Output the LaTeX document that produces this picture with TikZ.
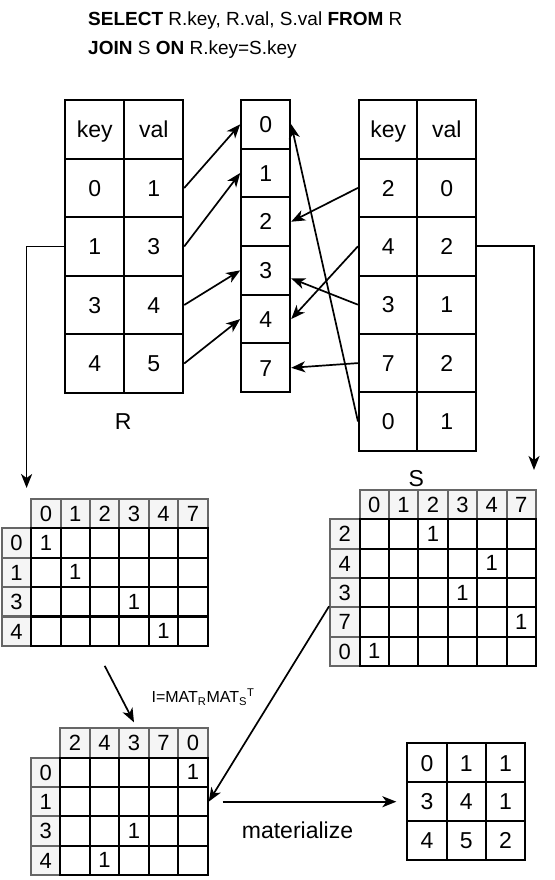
\documentclass[tikz,border=0pt]{standalone}
\usepackage{fontspec}
\setmainfont{Liberation Sans}
\usetikzlibrary{arrows.meta}

\definecolor{hdrfill}{HTML}{F5F5F5}
\definecolor{hdrline}{HTML}{666666}

\tikzset{
	txt/.style={draw=none, fill=none, inner sep=0pt, font=\fontsize{23}{27}\selectfont},
	tcell/.style={rectangle, draw, line width=2pt, inner sep=0pt, text height=16.5pt, text depth=0pt, font=\fontsize{23}{27}\selectfont},
	mcell/.style={rectangle, draw, line width=2pt, inner sep=0pt, minimum width=29.4pt, minimum height=29.3pt, text height=15.8pt, text depth=0pt, font=\fontsize{22}{26}\selectfont},
	hcell/.style={mcell, draw=hdrline, fill=hdrfill},
	link/.style={line width=1.7pt, -{Stealth[length=14pt, width=11pt, inset=4pt]}}
}

\begin{document}
\begin{tikzpicture}[x=1pt, y=-1pt]
	\useasboundingbox (0,0) rectangle (554,880);

	\node[txt, anchor=base west, font=\fontsize{19}{23}\selectfont] (sql1) at (88,26) {\textbf{SELECT} R.key, R.val, S.val \textbf{FROM} R};
	\node[txt, anchor=base west, font=\fontsize{19}{23}\selectfont] (sql2) at (88,55) {\textbf{JOIN} S \textbf{ON} R.key=S.key};

	\foreach \k/\v [count=\i from 0] in {key/val,0/1,1/3,3/4,4/5}{
		\node[tcell, minimum width=59pt, minimum height=58.5pt] (r\i-1) at (94.7,129.5+58.5*\i) {\k};
		\node[tcell, minimum width=59pt, minimum height=58.5pt] (r\i-2) at (153.7,129.5+58.5*\i) {\v};
	}
	\node[txt] (rname) at (123.3,421.7) {R};

	\foreach \k [count=\i from 0] in {0,1,2,3,4,7}
		\node[tcell, minimum width=49pt, minimum height=48.7pt] (k\k) at (265.7,124.3+48.7*\i) {\k};

	\foreach \k/\v [count=\i from 0] in {key/val,2/0,4/2,3/1,7/2,0/1}{
		\node[tcell, minimum width=58.5pt, minimum height=58.4pt] (s\i-1) at (388.2,129.5+58.4*\i) {\k};
		\node[tcell, minimum width=58.5pt, minimum height=58.4pt] (s\i-2) at (446.7,129.5+58.4*\i) {\v};
	}

	\draw[link] (r1-2.east) -- (k0.west);
	\draw[link] (r2-2.east) -- (k1.west);
	\draw[link] (r3-2.east) -- (k3.west);
	\draw[link] (r4-2.east) -- (k4.west);
	\draw[link] (s1-1.west) -- (k2.east);
	\draw[link] (s2-1.west) -- (k4.east);
	\draw[link] (s3-1.west) -- ([yshift=-8pt]k3.east);
	\draw[link] (s4-1.west) -- (k7.east);
	\draw[link] (s5-1.west) -- (k0.east);

	\coordinate (rdrop) at (26.6,488);
	\coordinate (sdrop) at (534,470);
	\draw[link] (r2-1.west) -| (rdrop);
	\draw[link] (s2-2.east) -| (sdrop);

	\foreach \h [count=\j from 0] in {0,1,2,3,4,7}
		\node[hcell] (mrh\j) at (45.9+29.4*\j,513.8) {\h};
	\foreach \h [count=\i from 0] in {0,1,3,4}
		\node[hcell] (mrr\i) at (16.5,543+29.4*\i) {\h};
	\foreach \i in {0,...,3}
		\foreach \j in {0,...,5}
			\node[mcell] (mr\i-\j) at (45.9+29.4*\j,543+29.4*\i) {};
	\foreach \i/\j in {0/0,1/1,2/3,3/4}
		\node[txt, font=\fontsize{22}{26}\selectfont] at (mr\i-\j) {1};

	\node[txt] (sname) at (416.2,478.5) {S};
	\foreach \h [count=\j from 0] in {0,1,2,3,4,7}
		\node[hcell] (msh\j) at (374.2+29.4*\j,504.7) {\h};
	\foreach \h [count=\i from 0] in {2,4,3,7,0}
		\node[hcell] (msr\i) at (344.8,534+29.3*\i) {\h};
	\foreach \i in {0,...,4}
		\foreach \j in {0,...,5}
			\node[mcell] (ms\i-\j) at (374.2+29.4*\j,534+29.3*\i) {};
	\foreach \i/\j in {0/2,1/4,2/3,3/5,4/0}
		\node[txt, font=\fontsize{22}{26}\selectfont] at (ms\i-\j) {1};

	\foreach \h [count=\j from 0] in {2,4,3,7,0}
		\node[hcell] (mih\j) at (75+29.5*\j,743) {\h};
	\foreach \h [count=\i from 0] in {0,1,3,4}
		\node[hcell] (mir\i) at (45.7,772.4+29.3*\i) {\h};
	\foreach \i in {0,...,3}
		\foreach \j in {0,...,4}
			\node[mcell] (mi\i-\j) at (75+29.5*\j,772.4+29.3*\i) {};
	\foreach \i/\j in {0/4,2/2,3/1}
		\node[txt, font=\fontsize{22}{26}\selectfont] at (mi\i-\j) {1};

	\foreach \a/\b/\c [count=\i from 0] in {0/1/1,3/4/1,4/5/2}{
		\node[tcell, minimum width=39.3pt, minimum height=38.9pt] (f\i-0) at (427,762.8+38.9*\i) {\a};
		\node[tcell, minimum width=39.3pt, minimum height=38.9pt] (f\i-1) at (466.3,762.8+38.9*\i) {\b};
		\node[tcell, minimum width=39.3pt, minimum height=38.9pt] (f\i-2) at (505.6,762.8+38.9*\i) {\c};
	}

	\draw[link] ([yshift=-19pt]mr3-2.south) -- ([yshift=5pt]mih2.north);
	\node[txt, font=\fontsize{16}{19}\selectfont] (prod) at (203,697) {I=MAT\textsubscript{R}MAT\textsubscript{S}\textsuperscript{T}};
	\draw[link] (msr3.north west) -- (mi1-4.east);
	\draw[link, shorten <=14pt, shorten >=10pt] (mi1-4.east) -- (f1-0.west);
	\node[txt] (mat) at (297.5,830) {materialize};
\end{tikzpicture}
\end{document}
